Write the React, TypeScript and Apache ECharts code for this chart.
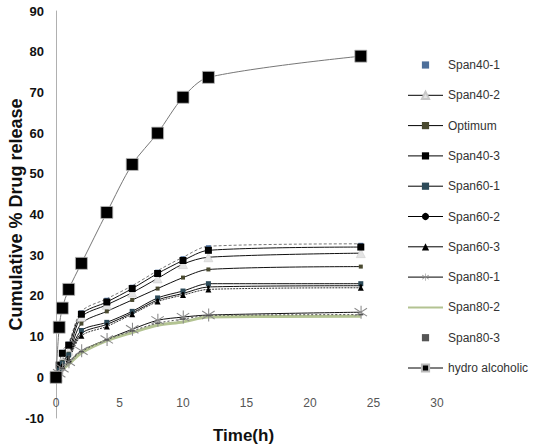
import React, { useEffect, useRef } from "react";
import * as echarts from "echarts";

const times = [0, 0.25, 0.5, 1, 2, 4, 6, 8, 10, 12, 24];

const span40_1 = [0, 3.5, 6.5, 8.5, 16.2, 19.3, 22.5, 26.2, 29.5, 32.2, 32.8];
const span40_2 = [0, 2.5, 4.5, 6.5, 14.8, 17.8, 20.8, 24.3, 27.8, 29.5, 30.5];
const optimum = [0, 2, 3.8, 5.8, 13.2, 16.2, 19, 21.8, 24.5, 26.5, 27.2];
const span40_3 = [0, 3, 5.9, 7.9, 15.5, 18.5, 21.8, 25.5, 28.7, 31.2, 32];
const span60_1 = [0, 1.8, 3.5, 5.5, 11.5, 13.5, 16.2, 19.5, 21.2, 23, 23];
const span60_2 = [0, 1.5, 3, 5, 10.8, 13, 15.8, 19, 20.6, 22.2, 22.5];
const span60_3 = [0, 1.2, 2.8, 4.5, 10.2, 12.5, 15.5, 18.6, 20.2, 21.6, 22];
const span80_1 = [0, 1, 2.2, 3.8, 6.5, 9.3, 11.8, 14, 14.8, 15.3, 16];
const span80_2 = [0, 1, 2, 3.2, 6, 9, 11, 12.8, 13.6, 14.8, 15];
const span80_3 = [0, 1.1, 2.2, 3.6, 6.3, 9.2, 11.4, 13.3, 14.3, 15.2, 15.4];
const hydro = [0, 12.3, 17, 21.6, 28, 40.5, 52.3, 60, 68.8, 73.7, 78.9];

const yTicks = { min: -10, max: 90, interval: 10 };
const xTicks = { min: 0, max: 30, interval: 5 };

const STAR =
  "path://M9.2,0 L10.8,0 L10.8,20 L9.2,20 Z M0.6,3.2 L19.4,15.4 L18.6,16.8 L-0.2,4.6 Z M19.4,4.6 L0.6,16.8 L-0.2,15.4 L18.6,3.2 Z";

const FONT = "'Liberation Sans', Arial, sans-serif";

function pairs(vals: number[]) {
  return times.map((t, i) => [t, vals[i]]);
}

export default function App() {
  const ref = useRef<HTMLDivElement>(null);
  useEffect(() => {
    if (!ref.current) return;
    const chart = echarts.init(ref.current, undefined, { renderer: "svg" });
    const base = { type: "line", smooth: 0.3, z: 2 } as any;
    const series: any[] = [
      {
        ...base,
        name: "Span40-1",
        data: pairs(span40_1),
        symbol: "rect",
        symbolSize: [5, 2],
        lineStyle: { color: "#777", width: 1, type: [3, 2] },
        itemStyle: { color: "#4d6f9a" },
      },
      {
        ...base,
        name: "Span40-2",
        data: pairs(span40_2),
        symbol: "triangle",
        symbolSize: 9,
        lineStyle: { color: "#111", width: 1 },
        itemStyle: { color: "#e4e4e4", borderColor: "#c8c8c8", borderWidth: 0.5 },
      },
      {
        ...base,
        name: "Optimum",
        data: pairs(optimum),
        symbol: "rect",
        symbolSize: 4,
        lineStyle: { color: "#111", width: 1 },
        itemStyle: { color: "#4a4a30" },
      },
      {
        ...base,
        name: "Span40-3",
        data: pairs(span40_3),
        symbol: "rect",
        symbolSize: 7,
        lineStyle: { color: "#111", width: 1 },
        itemStyle: { color: "#000" },
      },
      {
        ...base,
        name: "Span60-1",
        data: pairs(span60_1),
        symbol: "rect",
        symbolSize: 5,
        lineStyle: { color: "#111", width: 1 },
        itemStyle: { color: "#2c4a58" },
      },
      {
        ...base,
        name: "Span60-2",
        data: pairs(span60_2),
        symbol: "circle",
        symbolSize: 3,
        lineStyle: { color: "#111", width: 1 },
        itemStyle: { color: "#000" },
      },
      {
        ...base,
        name: "Span60-3",
        data: pairs(span60_3),
        symbol: "triangle",
        symbolSize: 6,
        lineStyle: { color: "#333", width: 1, type: [2, 1] },
        itemStyle: { color: "#000" },
      },
      {
        ...base,
        name: "Span80-1",
        data: pairs(span80_1),
        symbol: STAR,
        symbolSize: 13,
        lineStyle: { color: "#111", width: 1 },
        itemStyle: { color: "#8a8a8a" },
      },
      {
        ...base,
        name: "Span80-2",
        data: pairs(span80_2),
        symbol: "none",
        lineStyle: { color: "#b3c392", width: 3 },
        itemStyle: { color: "#b3c392" },
      },
      {
        ...base,
        name: "Span80-3",
        data: pairs(span80_3),
        symbol: "rect",
        symbolSize: [5, 1.5],
        lineStyle: { color: "#555", width: 1, type: [2, 2] },
        itemStyle: { color: "#555" },
      },
      {
        ...base,
        name: "hydro alcoholic",
        data: pairs(hydro),
        symbol: "rect",
        symbolSize: 12,
        z: 3,
        lineStyle: { color: "#777", width: 1 },
        itemStyle: { color: "#000", borderColor: "#bbb", borderWidth: 0.8 },
      },
    ];

    const legendData = series.map((s) => {
      const item: any = { name: s.name };
      if (s.name === "Span80-2") {
        item.itemStyle = { opacity: 0 };
      } else {
        item.lineStyle = { color: "#000", width: 1, type: "solid" };
        if (s.name === "Span40-1" || s.name === "Span80-3") item.lineStyle.opacity = 0;
      }
      return item;
    });

    chart.setOption({
      animation: false,
      backgroundColor: "#fff",
      grid: { left: 56, right: 96, top: 11, bottom: 30, containLabel: false, outerBoundsMode: "none" },
      legend: {
        orient: "vertical",
        left: 407,
        top: 58,
        padding: 0,
        itemWidth: 35,
        itemHeight: 9,
        itemGap: 16.3,
        textStyle: { fontFamily: FONT, fontSize: 12, color: "#333", lineHeight: 14 },
        data: legendData,
      },
      xAxis: {
        type: "value",
        min: xTicks.min,
        max: xTicks.max,
        interval: xTicks.interval,
        axisLine: { show: false, onZero: false },
        axisTick: { show: false },
        splitLine: { show: false },
        axisLabel: { margin: -21, fontFamily: FONT, fontSize: 12, color: "#555" },
      },
      yAxis: {
        type: "value",
        min: yTicks.min,
        max: yTicks.max,
        interval: yTicks.interval,
        axisLine: { show: true, onZero: false, lineStyle: { color: "#b0b0b0", width: 1 } },
        axisTick: { show: false },
        splitLine: { show: false },
        axisLabel: { margin: 12, fontFamily: FONT, fontSize: 13, fontWeight: "bold", color: "#111" },
        name: "Cumulative % Drug release",
        nameLocation: "middle",
        nameGap: 31,
        nameMoveOverlap: false,
        nameTextStyle: { fontFamily: FONT, fontSize: 18, fontWeight: "bold", color: "#111" },
      },
      graphic: [
        {
          type: "text",
          left: 213,
          top: 427,
          style: { text: "Time(h)", fontFamily: FONT, fontSize: 17, fontWeight: "bold", fill: "#111" },
        },
      ],
      series,
    });
    return () => chart.dispose();
  }, []);
  return (
    <div
      ref={ref}
      style={{ position: "fixed", left: 0, top: 0, width: 533, height: 448, background: "#fff" }}
    />
  );
}
